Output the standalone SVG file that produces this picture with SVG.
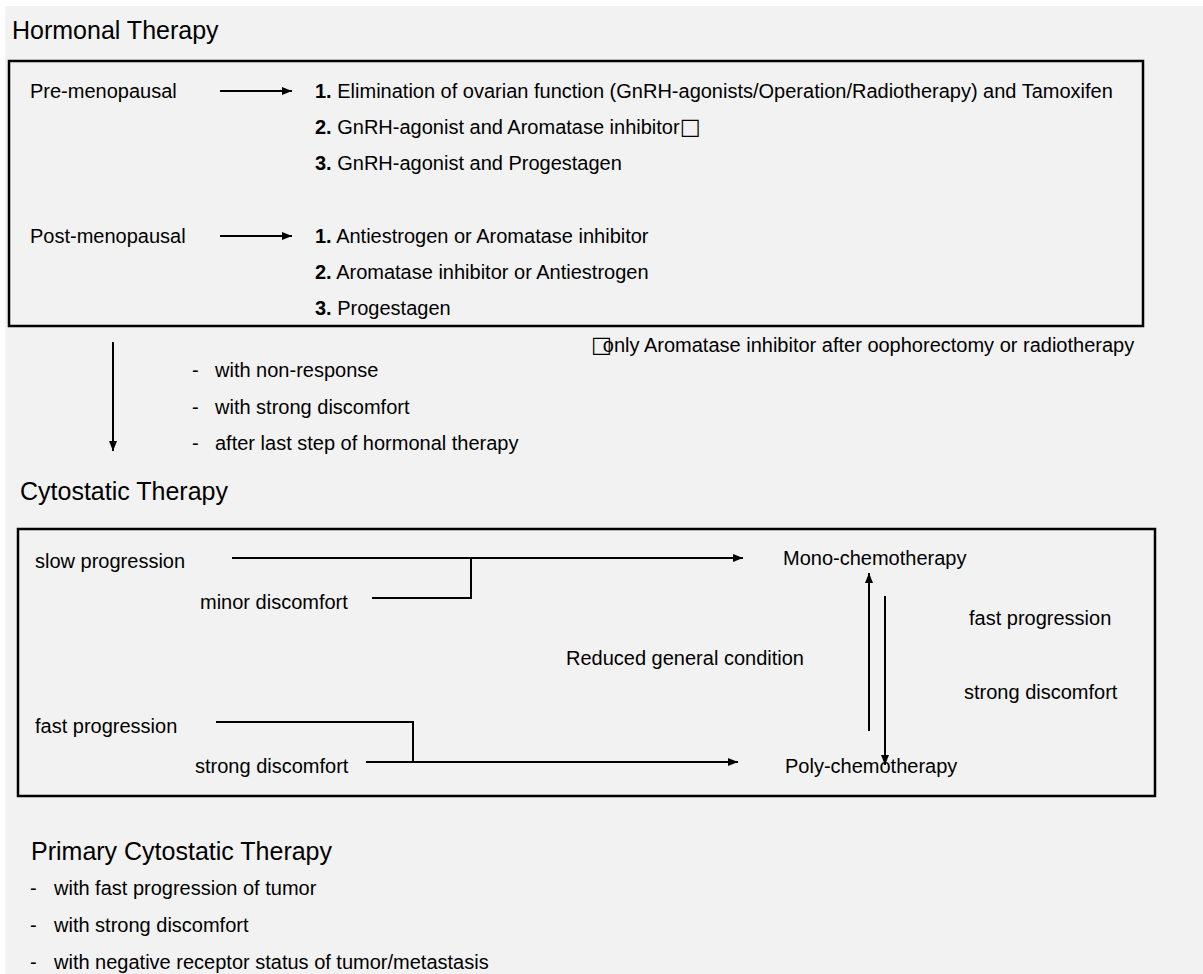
<svg xmlns="http://www.w3.org/2000/svg" width="1203" height="974" viewBox="0 0 1203 974">
<style>
text{font-family:"Liberation Sans",Arial,sans-serif;fill:#000}
.t{font-size:20px}
.h{font-size:25px}
.b{font-weight:bold}
.sq{font-family:"DejaVu Sans",sans-serif;font-size:22px}
.ln{stroke:#000;stroke-width:2;fill:none}
.box{stroke:#000;stroke-width:2.5;fill:none}
</style>
<defs>
<marker id="ah" viewBox="0 0 10 8" refX="10" refY="4" markerWidth="11" markerHeight="8" markerUnits="userSpaceOnUse" orient="auto">
<path d="M0,0 L10,4 L0,8 Z" fill="#000"/>
</marker>
</defs>
<rect x="0" y="0" width="1203" height="974" fill="#fff"/>
<rect x="5" y="6" width="1198" height="968" fill="#f2f2f2"/>

<g id="hormonal">
<text class="h" x="12" y="39">Hormonal Therapy</text>
<rect class="box" x="9" y="61" width="1134" height="265"/>
<text class="t" x="30" y="98">Pre-menopausal</text>
<text class="t" x="315" y="98"><tspan class="b">1.</tspan> Elimination of ovarian function (GnRH-agonists/Operation/Radiotherapy) and Tamoxifen</text>
<text class="t" x="315" y="134"><tspan class="b">2.</tspan> GnRH-agonist and Aromatase inhibitor<tspan class="sq">□</tspan></text>
<text class="t" x="315" y="170"><tspan class="b">3.</tspan> GnRH-agonist and Progestagen</text>
<text class="t" x="30" y="243">Post-menopausal</text>
<text class="t" x="315" y="243"><tspan class="b">1.</tspan> Antiestrogen or Aromatase inhibitor</text>
<text class="t" x="315" y="279"><tspan class="b">2.</tspan> Aromatase inhibitor or Antiestrogen</text>
<text class="t" x="315" y="315"><tspan class="b">3.</tspan> Progestagen</text>
</g>
<g id="footnote">
<text class="t" x="591" y="352"><tspan class="sq">□</tspan><tspan dx="-9">only Aromatase inhibitor after oophorectomy or radiotherapy</tspan></text>
</g>
<g id="transition">
<text class="t" x="192" y="377">-</text><text class="t" x="215" y="377">with non-response</text>
<text class="t" x="192" y="414">-</text><text class="t" x="215" y="414">with strong discomfort</text>
<text class="t" x="192" y="450">-</text><text class="t" x="215" y="450">after last step of hormonal therapy</text>
</g>

<g id="cytostatic">
<text class="h" x="20" y="500">Cytostatic Therapy</text>
<rect class="box" x="18" y="529" width="1137" height="267"/>
<text class="t" x="35" y="568">slow progression</text>
<text class="t" x="200" y="609">minor discomfort</text>
<text class="t" x="783" y="565">Mono-chemotherapy</text>
<text class="t" x="566" y="665">Reduced general condition</text>
<text class="t" x="969" y="625">fast progression</text>
<text class="t" x="964" y="699">strong discomfort</text>
<text class="t" x="35" y="733">fast progression</text>
<text class="t" x="195" y="773">strong discomfort</text>
<text class="t" x="785" y="773">Poly-chemotherapy</text>
</g>

<g id="primary">
<text class="h" x="31" y="860">Primary Cytostatic Therapy</text>
<text class="t" x="30" y="895">-</text><text class="t" x="54" y="895">with fast progression of tumor</text>
<text class="t" x="30" y="932">-</text><text class="t" x="54" y="932">with strong discomfort</text>
<text class="t" x="30" y="969">-</text><text class="t" x="54" y="969">with negative receptor status of tumor/metastasis</text>
</g>

<g id="connectors">
<line class="ln" x1="220" y1="91" x2="292" y2="91" marker-end="url(#ah)"/>
<line class="ln" x1="220" y1="236" x2="292" y2="236" marker-end="url(#ah)"/>
<line class="ln" x1="113" y1="342" x2="113" y2="451" marker-end="url(#ah)"/>
<line class="ln" x1="232" y1="558" x2="743" y2="558" marker-end="url(#ah)"/>
<polyline class="ln" points="372,598 471,598 471,557"/>
<line class="ln" x1="869" y1="731" x2="869" y2="573" marker-end="url(#ah)"/>
<line class="ln" x1="885" y1="596" x2="885" y2="765" marker-end="url(#ah)"/>
<polyline class="ln" points="216,722 413,722 413,763"/>
<line class="ln" x1="366" y1="762" x2="738" y2="762" marker-end="url(#ah)"/>
</g>
</svg>
